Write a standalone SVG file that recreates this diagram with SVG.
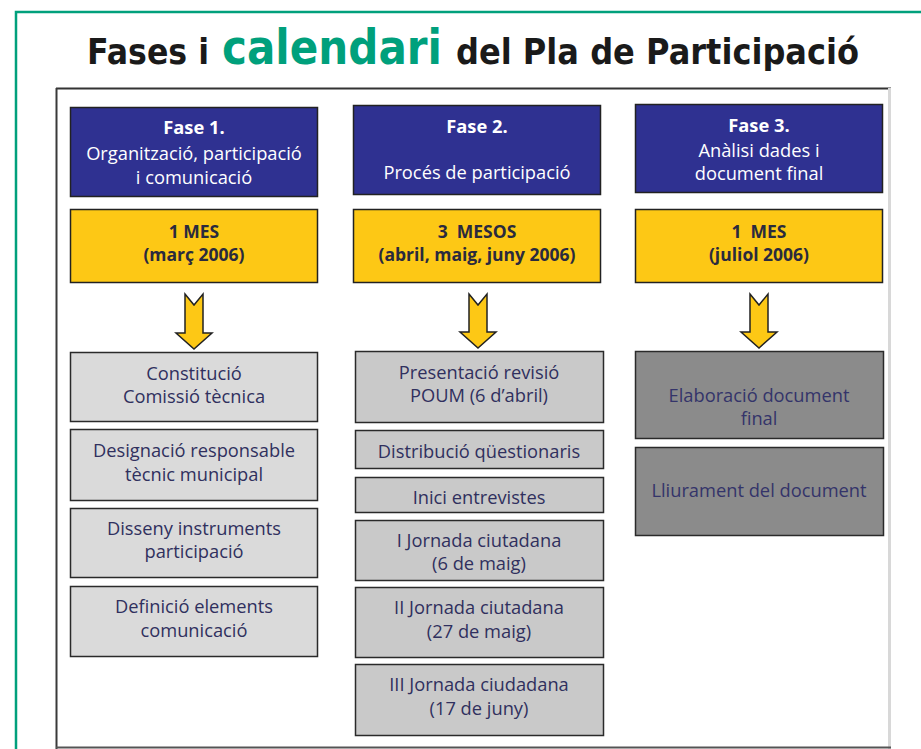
<svg xmlns="http://www.w3.org/2000/svg" width="921" height="749" viewBox="0 0 921 749">
<style>
.title{font-family:"DejaVu Sans","Liberation Sans",sans-serif;font-weight:bold;fill:#1a1a1a}
.green{fill:#00a07c}
.blue{fill:#2f3191;stroke:#222;stroke-width:1.5}
.yellow{fill:#fdc815;stroke:#222;stroke-width:1.5}
.g1{fill:#dadada;stroke:#2a2a2a;stroke-width:1.5}
.g2{fill:#c9c9c9;stroke:#2a2a2a;stroke-width:1.5}
.g3{fill:#8b8b8b;stroke:#2a2a2a;stroke-width:1.5}
.t{font-family:"Open Sans","DejaVu Sans",sans-serif;font-size:18.3px;text-anchor:middle}
.w{fill:#ffffff}
.b{font-weight:bold}
.y{fill:#2a2a3e;font-weight:bold;font-size:17.5px}
.n{fill:#30305e}
.n3{fill:#34346a}
.arrow{fill:#fdc815;stroke:#222;stroke-width:1.5;stroke-linejoin:miter}
</style>
<rect x="0" y="0" width="921" height="749" fill="#ffffff"/>
<rect x="16" y="12" width="920" height="760" fill="none" stroke="#00a07c" stroke-width="2.5"/>
<g id="title">
<text class="title" x="87" y="64" font-size="36" textLength="122" lengthAdjust="spacingAndGlyphs">Fases i</text>
<text class="title green" x="222" y="64" font-size="48" textLength="220" lengthAdjust="spacingAndGlyphs">calendari</text>
<text class="title" x="456" y="64" font-size="36" textLength="403" lengthAdjust="spacingAndGlyphs">del Pla de Participació</text>
</g>
<g id="frame">
<line x1="56" y1="88.5" x2="891" y2="88.5" stroke="#333" stroke-width="2"/>
<line x1="56.5" y1="88" x2="56.5" y2="749" stroke="#3a3a3a" stroke-width="2"/>
<line x1="889.5" y1="88" x2="889.5" y2="749" stroke="#d8d8d8" stroke-width="3"/>
<line x1="56" y1="747.5" x2="891" y2="747.5" stroke="#555" stroke-width="2"/>
</g>
<g id="fase1">
<rect class="blue" x="70.5" y="107.5" width="247" height="89"/>
<text class="t w b" x="194" y="134">Fase 1.</text>
<text class="t w" x="194" y="160">Organització, participació</text>
<text class="t w" x="194" y="184">i comunicació</text>
</g>
<g id="mes1">
<rect class="yellow" x="70.5" y="209.5" width="247" height="73"/>
<text class="t y" x="194" y="238">1 MES</text>
<text class="t y" x="194" y="261">(març 2006)</text>
</g>
<g id="fase2">
<rect class="blue" x="353.5" y="105.5" width="247" height="89"/>
<text class="t w b" x="477" y="133">Fase 2.</text>
<text class="t w" x="477" y="179">Procés de participació</text>
</g>
<g id="mes2">
<rect class="yellow" x="353.5" y="209.5" width="247" height="73"/>
<text class="t y" x="477" y="238" xml:space="preserve">3  MESOS</text>
<text class="t y" x="477" y="261">(abril, maig, juny 2006)</text>
</g>
<g id="fase3">
<rect class="blue" x="635.5" y="104.5" width="247" height="88"/>
<text class="t w b" x="759" y="132">Fase 3.</text>
<text class="t w" x="759" y="157">Anàlisi dades i</text>
<text class="t w" x="759" y="180">document final</text>
</g>
<g id="mes3">
<rect class="yellow" x="635.5" y="209.5" width="247" height="73"/>
<text class="t y" x="759" y="238" xml:space="preserve">1  MES</text>
<text class="t y" x="759" y="261">(juliol 2006)</text>
</g>
<g id="connectors">
<polygon class="arrow" points="185,294 194,305 203,294 203,333 212,333 194,349 176,333 185,333"/>
<polygon class="arrow" points="469,294 478,305 487,294 487,332 496,332 478,348 460,332 469,332"/>
<polygon class="arrow" points="750,294 759,305 768,294 768,332 777,332 759,348 741,332 750,332"/>
</g>
<g id="c1-1"><rect class="g1" x="70.5" y="352.5" width="247" height="69"/>
<text class="t n" x="194" y="380">Constitució</text><text class="t n" x="194" y="403">Comissió tècnica</text></g>
<g id="c1-2"><rect class="g1" x="70.5" y="429.5" width="247" height="71"/>
<text class="t n" x="194" y="457">Designació responsable</text><text class="t n" x="194" y="481">tècnic municipal</text></g>
<g id="c1-3"><rect class="g1" x="70.5" y="508.5" width="247" height="69"/>
<text class="t n" x="194" y="535">Disseny instruments</text><text class="t n" x="194" y="558">participació</text></g>
<g id="c1-4"><rect class="g1" x="70.5" y="586.5" width="247" height="70"/>
<text class="t n" x="194" y="613">Definició elements</text><text class="t n" x="194" y="637">comunicació</text></g>
<g id="c2-1"><rect class="g2" x="355.5" y="351.5" width="248" height="71"/>
<text class="t n" x="479" y="379">Presentació revisió</text><text class="t n" x="479" y="402">POUM (6 d’abril)</text></g>
<g id="c2-2"><rect class="g2" x="355.5" y="430.5" width="248" height="38"/>
<text class="t n" x="479" y="458">Distribució qüestionaris</text></g>
<g id="c2-3"><rect class="g2" x="355.5" y="477.5" width="248" height="35"/>
<text class="t n" x="479" y="504">Inici entrevistes</text></g>
<g id="c2-4"><rect class="g2" x="355.5" y="520.5" width="248" height="60"/>
<text class="t n" x="479" y="547">I Jornada ciutadana</text><text class="t n" x="479" y="570">(6 de maig)</text></g>
<g id="c2-5"><rect class="g2" x="355.5" y="587.5" width="248" height="70"/>
<text class="t n" x="479" y="614">II Jornada ciutadana</text><text class="t n" x="479" y="638">(27 de maig)</text></g>
<g id="c2-6"><rect class="g2" x="355.5" y="664.5" width="248" height="71"/>
<text class="t n" x="479" y="691">III Jornada ciudadana</text><text class="t n" x="479" y="715">(17 de juny)</text></g>
<g id="c3-1"><rect class="g3" x="635.5" y="351.5" width="248" height="87"/>
<text class="t n3" x="759" y="402">Elaboració document</text><text class="t n3" x="759" y="425">final</text></g>
<g id="c3-2"><rect class="g3" x="635.5" y="447.5" width="248" height="88"/>
<text class="t n3" x="759" y="497">Lliurament del document</text></g>
</svg>
